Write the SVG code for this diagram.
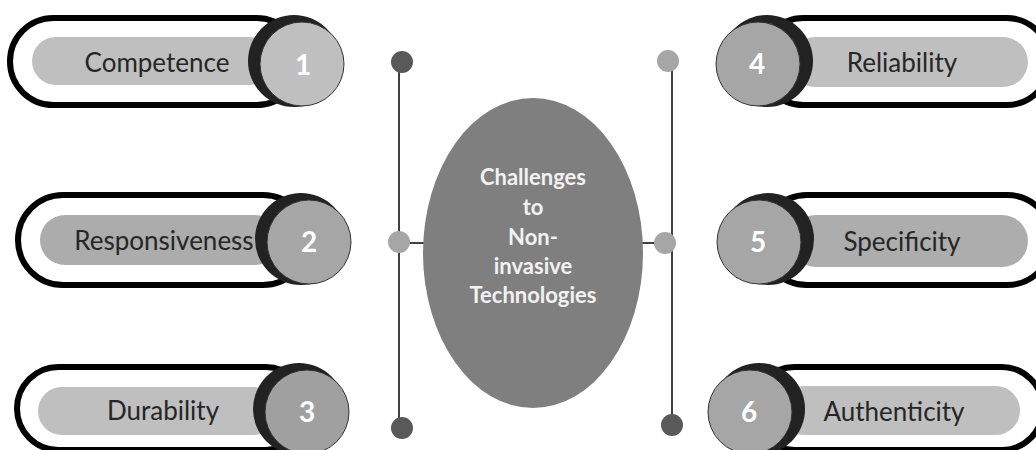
<svg xmlns="http://www.w3.org/2000/svg" width="1036" height="450" viewBox="0 0 1036 450">
<style>
.outer{fill:#ffffff;stroke:#000000;stroke-width:6}
.ring{fill:#222222}
.num{fill:#a6a6a6;stroke:#333333;stroke-width:1}
.lbl{font-family:Lato,"Liberation Sans",sans-serif;font-size:26px;fill:#262626;text-anchor:middle;dominant-baseline:central}
.n{font-family:Lato,"Liberation Sans",sans-serif;font-size:28px;font-weight:bold;fill:#ffffff;text-anchor:middle;dominant-baseline:central}
.ct{font-family:Lato,"Liberation Sans",sans-serif;font-size:22px;font-weight:bold;fill:#f2f2f2;text-anchor:middle}
.ln{stroke:#404040;stroke-width:2;fill:none}
.dk{fill:#595959}
.lt{fill:#a6a6a6}
</style>
<g id="connectors">
<line class="ln" x1="399" y1="62" x2="399" y2="428"/>
<line class="ln" x1="672" y1="60" x2="672" y2="425"/>
<line class="ln" x1="399" y1="243" x2="426" y2="243"/>
<line class="ln" x1="642" y1="243" x2="666" y2="243"/>
<circle class="dk" cx="402" cy="62" r="11"/>
<circle class="lt" cx="399" cy="242" r="11"/>
<circle class="dk" cx="402" cy="428" r="11"/>
<circle class="lt" cx="668" cy="61" r="11"/>
<circle class="lt" cx="665" cy="243" r="11"/>
<circle class="dk" cx="672" cy="425" r="11"/>
</g>
<g id="center">
<ellipse cx="533" cy="253" rx="110" ry="155" fill="#7f7f7f"/>
<text class="ct" x="533" y="185">Challenges</text>
<text class="ct" x="533" y="215">to</text>
<text class="ct" x="533" y="245">Non-</text>
<text class="ct" x="533" y="274">invasive</text>
<text class="ct" x="533" y="303">Technologies</text>
</g>
<g id="node1">
<rect class="outer" x="10" y="18" width="290" height="87" rx="43.5"/>
<rect x="32" y="37" width="240" height="48" rx="24" fill="#bfbfbf"/>
<circle class="ring" cx="294" cy="61" r="46"/>
<circle class="num" cx="302" cy="64" r="42" style="fill:#bfbfbf"/>
<text class="lbl" x="157" y="62">Competence</text>
<text class="n" x="303" y="64">1</text>
</g>
<g id="node2">
<rect class="outer" x="18" y="195" width="290" height="90" rx="45"/>
<rect x="40" y="215" width="240" height="50" rx="25" fill="#acacac"/>
<circle class="ring" cx="301" cy="239" r="46"/>
<circle class="num" cx="309" cy="242" r="42"/>
<text class="lbl" x="164" y="240">Responsiveness</text>
<text class="n" x="309" y="241">2</text>
</g>
<g id="node3">
<rect class="outer" x="17" y="367" width="290" height="83" rx="41.5"/>
<rect x="38" y="387" width="240" height="48" rx="24" fill="#bfbfbf"/>
<circle class="ring" cx="299" cy="409" r="46"/>
<circle class="num" cx="307" cy="412" r="42" style="fill:#a0a0a0"/>
<text class="lbl" x="163" y="410">Durability</text>
<text class="n" x="307" y="411">3</text>
</g>
<g id="node4">
<rect class="outer" x="760" y="18" width="290" height="87" rx="43.5"/>
<rect x="790" y="37" width="238" height="50" rx="25" fill="#bfbfbf"/>
<circle class="ring" cx="767" cy="61" r="46"/>
<circle class="num" cx="758" cy="64" r="42"/>
<text class="lbl" x="902" y="62">Reliability</text>
<text class="n" x="757" y="63">4</text>
</g>
<g id="node5">
<rect class="outer" x="762" y="195" width="290" height="90" rx="45"/>
<rect x="790" y="215" width="238" height="52" rx="26" fill="#adadad"/>
<circle class="ring" cx="768" cy="239" r="46"/>
<circle class="num" cx="759" cy="242" r="42"/>
<text class="lbl" x="902" y="241">Specificity</text>
<text class="n" x="758" y="241">5</text>
</g>
<g id="node6">
<rect class="outer" x="753" y="367" width="290" height="83" rx="41.5"/>
<rect x="780" y="386" width="240" height="49" rx="24.5" fill="#bfbfbf"/>
<circle class="ring" cx="759" cy="409" r="46"/>
<circle class="num" cx="750" cy="412" r="42"/>
<text class="lbl" x="894" y="411">Authenticity</text>
<text class="n" x="749" y="411">6</text>
</g>
</svg>
